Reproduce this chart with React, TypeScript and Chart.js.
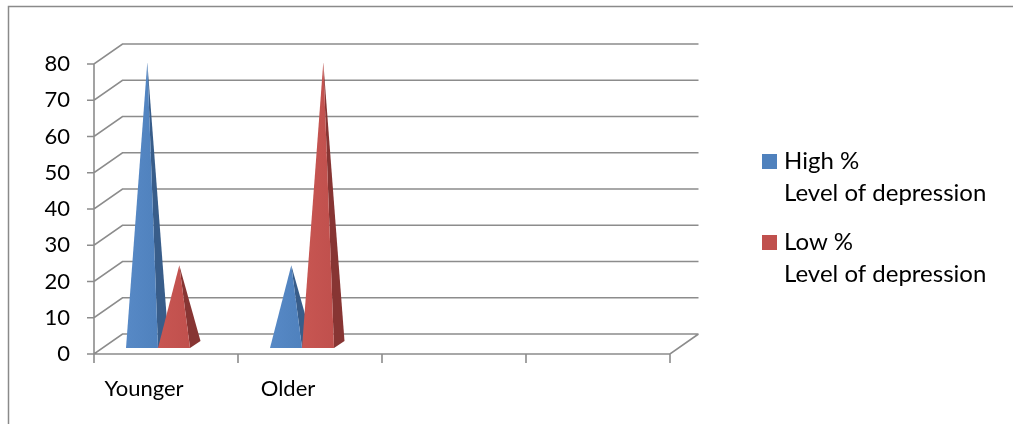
import React, { useEffect, useRef } from 'react';
import { Chart, registerables } from 'chart.js';

Chart.register(...registerables);

// ---- data ----
const categories = ['Younger', 'Older', '', ''];
const seriesNames = ['High %\nLevel of depression', 'Low %\nLevel of depression'];
const highValues: (number | null)[] = [78, 22, null, null];
const lowValues: (number | null)[] = [22, 78, null, null];
const yMin = 0;
const yMax = 80;
const yStep = 10;

// ---- style ----
const frontColors = ['#4f81bd', '#c0504d'];
const lightColors = ['#5789c6', '#c85652'];
const sideColors = ['#385d8a', '#873533'];
const gridColor = '#8c8c8c';
const FONT = 'Lato, "Open Sans", sans-serif';
const AXIS_FONT_SIZE = 22;
const LEGEND_FONT_SIZE = 24;

// oblique projection used for the 3-D walls
const DEPTH_X = 28.5;
const DEPTH_Y = -20;

// walls, floor and gridlines behind the pyramids
const wallPlugin = {
  id: 'wall3d',
  beforeDatasetsDraw(chart: any) {
    const { ctx, chartArea: a, scales } = chart;
    const ys = scales.y;
    ctx.save();
    ctx.strokeStyle = gridColor;
    ctx.lineWidth = 1.6;
    ctx.beginPath();
    for (const t of ys.ticks) {
      const py = ys.getPixelForValue(t.value);
      ctx.moveTo(a.left - 7, py);
      ctx.lineTo(a.left, py);
      ctx.lineTo(a.left + DEPTH_X, py + DEPTH_Y);
      ctx.lineTo(a.right + DEPTH_X, py + DEPTH_Y);
    }
    // front value axis
    ctx.moveTo(a.left, a.top);
    ctx.lineTo(a.left, a.bottom + 9);
    // floor front and right edges
    ctx.moveTo(a.left, a.bottom);
    ctx.lineTo(a.right, a.bottom);
    ctx.lineTo(a.right + DEPTH_X, a.bottom + DEPTH_Y);
    // category separators
    const n = categories.length;
    for (let i = 1; i <= n; i++) {
      const px = a.left + ((a.right - a.left) * i) / n;
      ctx.moveTo(px, a.bottom);
      ctx.lineTo(px, a.bottom + 9);
    }
    ctx.stroke();
    ctx.restore();
  },
};

// bars are replaced by pyramids built on each bar element's geometry
const pyramidPlugin = {
  id: 'pyramids',
  beforeDatasetDraw() {
    return false;
  },
  afterDatasetsDraw(chart: any) {
    const ctx = chart.ctx;
    chart.data.datasets.forEach((ds: any, di: number) => {
      const meta = chart.getDatasetMeta(di);
      meta.data.forEach((el: any, i: number) => {
        const v = ds.data[i];
        if (v == null) return;
        const { x, y, base, width } = el.getProps(['x', 'y', 'base', 'width'], true);
        const cx = x - 8;
        const half = width / 2;
        const by = base - 6;
        const fl = [cx - half, by];
        const fr = [cx + half, by];
        const br = [cx + half + 10.5, by - 7];
        const apex = [cx + 5.3, y - 9];

        // right-hand face
        ctx.beginPath();
        ctx.moveTo(fr[0], fr[1]);
        ctx.lineTo(br[0], br[1]);
        ctx.lineTo(apex[0], apex[1]);
        ctx.closePath();
        ctx.fillStyle = sideColors[di];
        ctx.fill();

        // front face
        const g = ctx.createLinearGradient(fl[0], 0, fr[0], 0);
        g.addColorStop(0, lightColors[di]);
        g.addColorStop(1, frontColors[di]);
        ctx.beginPath();
        ctx.moveTo(fl[0], fl[1]);
        ctx.lineTo(fr[0], fr[1]);
        ctx.lineTo(apex[0], apex[1]);
        ctx.closePath();
        ctx.fillStyle = g;
        ctx.fill();
      });
    });
  },
};

// legend at the right and the outer frame
const legendPlugin = {
  id: 'sideLegend',
  afterDraw(chart: any) {
    const ctx = chart.ctx;
    ctx.save();
    // frame
    ctx.strokeStyle = '#8a8a8a';
    ctx.lineWidth = 1.5;
    ctx.beginPath();
    ctx.moveTo(8.5, chart.height);
    ctx.lineTo(8.5, 6.5);
    ctx.lineTo(chart.width, 6.5);
    ctx.stroke();

    ctx.font = `${LEGEND_FONT_SIZE}px ${FONT}`;
    ctx.textBaseline = 'middle';
    ctx.textAlign = 'left';
    chart.data.datasets.forEach((ds: any, di: number) => {
      const top = 161 + di * 81;
      ctx.fillStyle = frontColors[di];
      ctx.fillRect(762, top - 7, 15, 15);
      ctx.fillStyle = '#000';
      String(ds.label)
        .split('\n')
        .forEach((line: string, li: number) => {
          ctx.fillText(line, 784, top + li * 32);
        });
    });
    ctx.restore();
  },
};

export default function App() {
  const ref = useRef<HTMLCanvasElement | null>(null);

  useEffect(() => {
    if (!ref.current) return;
    const chart = new Chart(ref.current, {
      type: 'bar',
      data: {
        labels: categories,
        datasets: [
          { label: seriesNames[0], data: highValues, backgroundColor: frontColors[0] },
          { label: seriesNames[1], data: lowValues, backgroundColor: frontColors[1] },
        ],
      },
      options: {
        animation: false,
        responsive: false,
        maintainAspectRatio: false,
        devicePixelRatio: 1,
        datasets: { bar: { barPercentage: 1, categoryPercentage: 64 / 144 } },
        layout: { padding: { top: 64, right: 343, left: 0, bottom: 0 } },
        plugins: { legend: { display: false }, tooltip: { enabled: false } },
        scales: {
          x: {
            grid: { display: false, drawTicks: false },
            border: { display: false },
            ticks: {
              color: '#000',
              font: { family: FONT, size: AXIS_FONT_SIZE },
              padding: 22,
              labelOffset: -22,
              maxRotation: 0,
              autoSkip: false,
            },
            afterFit(scale: any) {
              scale.height = 70;
            },
          },
          y: {
            min: yMin,
            max: yMax,
            grid: { display: false, drawTicks: false },
            border: { display: false },
            ticks: {
              stepSize: yStep,
              color: '#000',
              font: { family: FONT, size: AXIS_FONT_SIZE },
              padding: 24,
            },
            afterFit(scale: any) {
              scale.width = 94;
            },
          },
        },
      },
      plugins: [wallPlugin, pyramidPlugin, legendPlugin],
    } as any);
    return () => chart.destroy();
  }, []);

  return (
    <div style={{ position: 'absolute', left: 0, top: 0, width: 1013, height: 424, background: '#fff' }}>
      <canvas ref={ref} width={1013} height={424} />
    </div>
  );
}
